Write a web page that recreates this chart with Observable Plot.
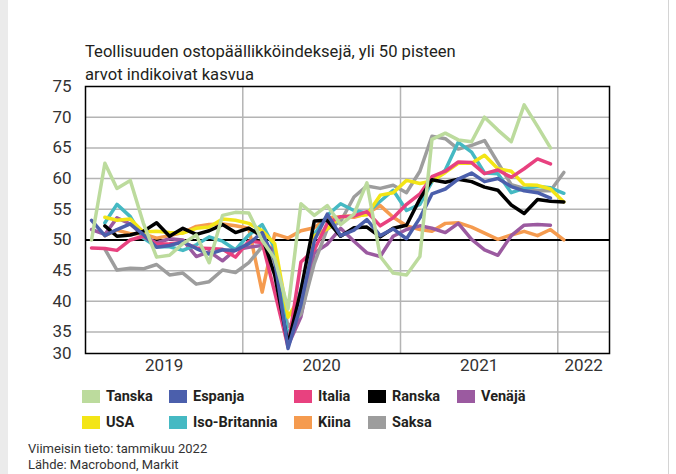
<!DOCTYPE html>
<html lang="fi">
<head>
<meta charset="utf-8">
<script src="https://cdn.jsdelivr.net/npm/d3@7"></script>
<script src="https://cdn.jsdelivr.net/npm/@observablehq/plot@0.6"></script>
<style>
  html, body { margin: 0; padding: 0; background: #fff; }
  body { width: 676px; height: 474px; position: relative; overflow: hidden; font-family: Roboto, "Noto Sans", sans-serif; color: #231f20; }
  #strip { position: absolute; left: 0; top: 0; width: 8px; height: 474px; background: #ebebeb; }
  #edge { position: absolute; left: 668px; top: 0; width: 1px; height: 474px; background: #d4d4d4; }
  #title { position: absolute; left: 85px; top: 40px; font-size: 16.6px; line-height: 23px; white-space: nowrap; }
  #chart { position: absolute; left: 0; top: 80px; }
  #legend { position: absolute; left: 82px; top: 386px; display: grid; grid-template-columns: 87px 125px 74px 89px 110px; grid-auto-rows: 26px; font-weight: 700; font-size: 14.5px; }
  .item { display: flex; align-items: center; height: 21px; white-space: nowrap; }
  .sw { width: 17.5px; height: 13.5px; margin-right: 6.5px; flex: none; }
  #foot { position: absolute; left: 28px; top: 441px; font-size: 13px; line-height: 16px; color: #333; white-space: nowrap; }
</style>
</head>
<body>
<div id="strip"></div>
<div id="edge"></div>
<div id="title">Teollisuuden ostopäällikköindeksejä, yli 50 pisteen<br>arvot indikoivat kasvua</div>
<div id="chart"></div>
<div id="legend"></div>
<div id="foot">Viimeisin tieto: tammikuu 2022<br>Lähde: Macrobond, Markit</div>
<script>
// ---- Data (monthly index values) ----
// Series running Jan 2019 – Dec 2021
const tanska  = [50.0, 62.5, 58.4, 59.7, 52.8, 47.2, 47.5, 49.4, 50.8, 46.3, 54.0, 54.5,
                 54.4, 49.9, 47.0, 38.8, 55.9, 54.0, 55.6, 52.5, 54.2, 59.3, 47.3, 44.6,
                 44.3, 47.3, 66.4, 67.4, 66.3, 66.0, 70.0, 67.9, 66.0, 72.0, 68.5, 65.0];
const espanja = [53.2, 50.7, 51.7, 52.6, 50.9, 48.8, 49.1, 49.7, 48.6, 47.7, 48.4, 48.3,
                 49.4, 51.2, 46.7, 32.3, 39.5, 49.9, 54.2, 50.7, 51.6, 53.3, 50.7, 51.8,
                 50.2, 53.6, 57.5, 58.3, 59.9, 60.9, 59.5, 60.0, 58.7, 58.0, 57.7, 56.8];
const italia  = [48.7, 48.6, 48.3, 50.0, 50.6, 49.3, 49.4, 49.6, 48.7, 48.6, 48.5, 47.2,
                 49.8, 49.6, 41.5, 32.6, 46.4, 48.4, 52.7, 53.8, 53.9, 54.6, 52.3, 53.6,
                 55.8, 57.5, 60.3, 61.2, 62.7, 62.6, 60.8, 61.4, 60.2, 61.6, 63.2, 62.4];
const venaja  = [51.7, 50.9, 53.6, 52.6, 50.7, 49.5, 50.2, 50.0, 47.3, 48.1, 46.6, 48.4,
                 48.8, 49.1, 48.4, 32.8, 37.5, 47.9, 49.3, 51.9, 49.8, 47.9, 47.3, 50.6,
                 51.7, 52.3, 51.9, 51.2, 52.7, 50.1, 48.4, 47.5, 50.7, 52.4, 52.5, 52.4];
// Series running Feb 2019 – Jan 2022
const ranska  = [52.3, 50.6, 50.8, 51.4, 52.8, 50.6, 51.9, 50.9, 51.5, 52.5, 51.2,
                 51.9, 50.6, 44.3, 33.0, 41.8, 53.1, 53.2, 50.6, 52.0, 52.1, 50.5, 51.9,
                 52.4, 56.7, 59.8, 59.4, 59.9, 59.5, 58.6, 58.1, 55.7, 54.3, 56.6, 56.3,
                 56.2];
const usa     = [53.7, 53.2, 53.4, 51.3, 51.4, 51.2, 51.1, 51.9, 52.1, 53.4, 53.2,
                 52.7, 51.5, 49.4, 37.4, 41.0, 50.7, 51.8, 53.8, 53.9, 54.1, 57.3, 57.7,
                 59.7, 59.2, 59.6, 61.0, 62.5, 62.5, 63.8, 61.6, 61.2, 59.0, 58.9, 58.3,
                 56.2];
const isoBritannia = [52.8, 55.8, 53.8, 50.3, 48.9, 48.9, 48.3, 49.2, 50.5, 49.8, 48.4,
                 50.8, 52.5, 48.7, 34.0, 41.9, 50.9, 54.0, 55.9, 54.8, 54.4, 56.3, 58.1,
                 54.8, 55.8, 59.5, 61.4, 65.9, 64.3, 60.9, 60.8, 57.7, 58.4, 58.7, 58.5,
                 57.6];
const kiina   = [50.7, 51.6, 51.0, 51.0, 50.3, 50.7, 51.2, 52.2, 52.5, 52.6, 52.3,
                 51.9, 41.5, 51.0, 50.3, 51.5, 52.0, 53.6, 53.8, 53.7, 54.3, 55.6, 53.7,
                 52.3, 51.7, 51.4, 52.7, 52.8, 52.1, 51.1, 50.1, 50.8, 51.4, 50.7, 51.7,
                 50.0];
const saksa   = [48.5, 45.1, 45.4, 45.3, 46.0, 44.3, 44.6, 42.8, 43.2, 45.1, 44.7,
                 46.3, 48.9, 46.4, 35.9, 37.9, 46.2, 51.8, 53.0, 57.0, 58.8, 58.4, 58.9,
                 57.7, 61.2, 66.9, 66.5, 64.8, 65.4, 66.2, 62.6, 59.0, 58.4, 58.0, 58.0,
                 61.0];

const seriesNames  = ["Tanska", "Espanja", "Italia", "Ranska", "Venäjä", "USA", "Iso-Britannia", "Kiina", "Saksa"];
const seriesValues = [tanska, espanja, italia, ranska, venaja, usa, isoBritannia, kiina, saksa];
const seriesStart  = ["2019-01", "2019-01", "2019-01", "2019-02", "2019-01", "2019-02", "2019-02", "2019-02", "2019-02"];
const seriesColors = ["#bcdb9d", "#4b5fac", "#e8417f", "#000000", "#9b5aa0", "#f3e516", "#45b9c3", "#f59b4f", "#9d9d9d"];
const drawOrder    = ["Kiina", "Venäjä", "Saksa", "Iso-Britannia", "USA", "Italia", "Ranska", "Espanja", "Tanska"];

const yTicks = [30, 35, 40, 45, 50, 55, 60, 65, 70, 75];
const yGrid = [35, 40, 45, 55, 60, 65, 70];
const referenceLevel = [50];
const yearLabels = ["2019", "2020", "2021", "2022"];
const yearBreaks = ["2020", "2021", "2022"];

// ---- Build ----
const xDomain = [new Date(Date.UTC(2019, 0, 1)), new Date(Date.UTC(2022, 4, 1))];
const rows = [];
seriesNames.forEach((name, k) => {
  const [sy, sm] = seriesStart[k].split("-").map(Number);
  seriesValues[k].forEach((v, i) => rows.push({name, date: new Date(Date.UTC(sy, sm - 1 + i, 15)), value: v}));
});
const colorOf = Object.fromEntries(seriesNames.map((n, k) => [n, seriesColors[k]]));
const yearMid = y => {
  const a = Math.max(Date.UTC(+y, 0, 1), +xDomain[0]);
  const b = Math.min(Date.UTC(+y + 1, 0, 1), +xDomain[1]);
  return new Date((a + b) / 2);
};

const plot = Plot.plot({
  width: 676, height: 300,
  marginLeft: 85, marginRight: 67, marginTop: 6, marginBottom: 27,
  style: {fontFamily: "Roboto, 'Noto Sans', sans-serif", fontSize: "17px", color: "#333", background: "transparent", overflow: "visible"},
  x: {type: "utc", domain: xDomain, axis: null},
  y: {domain: [31.5, 75], clamp: true, label: null},
  marks: [
    Plot.ruleY(yGrid, {stroke: "#b4b4b4", strokeWidth: 1.5}),
    Plot.ruleX(yearBreaks.map(y => new Date(Date.UTC(+y, 0, 1))), {stroke: "#b4b4b4", strokeWidth: 1.5}),
    Plot.ruleY(referenceLevel, {stroke: "#000", strokeWidth: 2}),
    Plot.axisY(yTicks, {tickSize: 0, tickPadding: 14, fontSize: 17, label: null}),
    Plot.text(yearLabels, {x: yearMid, text: d => d, frameAnchor: "bottom", dy: 17, fontSize: 17, fill: "#333"}),
    ...drawOrder.map(name => Plot.lineY(rows.filter(r => r.name === name), {
      x: "date", y: "value", stroke: colorOf[name], strokeWidth: 3.5, strokeLinejoin: "round"
    })),
    Plot.frame({stroke: "#000", strokeWidth: 1.5})
  ]
});
document.getElementById("chart").appendChild(plot);

// ---- Legend ----
const legend = document.getElementById("legend");
seriesNames.forEach((name, k) => {
  const item = document.createElement("div");
  item.className = "item";
  const sw = document.createElement("span");
  sw.className = "sw";
  sw.style.background = seriesColors[k];
  const label = document.createElement("span");
  label.textContent = name;
  item.appendChild(sw);
  item.appendChild(label);
  legend.appendChild(item);
});
</script>
</body>
</html>
